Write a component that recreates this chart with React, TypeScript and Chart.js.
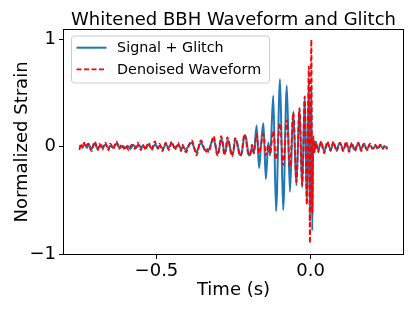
import React, { useEffect, useRef } from "react";
import { Chart, registerables } from "chart.js";

Chart.register(...registerables);

// ---- data ----
const times = [
  -0.750, -0.745, -0.740, -0.735, -0.730, -0.725, -0.720, -0.715, -0.710, -0.705,
  -0.700, -0.695, -0.690, -0.685, -0.680, -0.675, -0.670, -0.665, -0.660, -0.655,
  -0.650, -0.645, -0.640, -0.635, -0.630, -0.625, -0.620, -0.615, -0.610, -0.605,
  -0.600, -0.595, -0.590, -0.585, -0.580, -0.575, -0.570, -0.565, -0.560, -0.555,
  -0.550, -0.545, -0.540, -0.535, -0.530, -0.525, -0.520, -0.515, -0.510, -0.505,
  -0.500, -0.495, -0.490, -0.485, -0.480, -0.475, -0.470, -0.465, -0.460, -0.455,
  -0.450, -0.445, -0.440, -0.435, -0.430, -0.425, -0.420, -0.415, -0.410, -0.405,
  -0.400, -0.395, -0.390, -0.385, -0.380, -0.375, -0.370, -0.365, -0.360, -0.355,
  -0.350, -0.345, -0.340, -0.335,
  -0.330, -0.325, -0.320, -0.315, -0.310, -0.305, -0.300, -0.295, -0.290, -0.285,
  -0.280, -0.275, -0.270, -0.265, -0.260, -0.255, -0.250, -0.245, -0.240, -0.235,
  -0.230, -0.225, -0.220, -0.215, -0.210, -0.205, -0.200, -0.195,
  -0.190, -0.184, -0.175, -0.167, -0.160, -0.153, -0.145, -0.137, -0.131, -0.121,
  -0.112, -0.099, -0.089, -0.077, -0.067, -0.056, -0.046, -0.036, -0.027, -0.019,
  -0.012, -0.0055, -0.002, 0.0025, 0.0055, 0.009, 0.013, 0.017,
  0.020, 0.025, 0.030, 0.035, 0.040, 0.045, 0.050, 0.055, 0.060, 0.065,
  0.070, 0.075, 0.080, 0.085, 0.090, 0.095, 0.100, 0.105, 0.110, 0.115,
  0.120, 0.125, 0.130, 0.135, 0.140, 0.145, 0.150, 0.155, 0.160, 0.165,
  0.170, 0.175, 0.180, 0.185, 0.190, 0.195, 0.200, 0.205, 0.210, 0.215,
  0.220, 0.225, 0.230, 0.235, 0.240, 0.245, 0.250,
];

const signalGlitch = [
  -0.01, 0.01, 0.00, 0.02, 0.01, -0.01, 0.02, 0.00, -0.02, 0.01,
  0.03, 0.00, -0.02, 0.01, 0.02, -0.01, 0.01, 0.02, 0.00, -0.01,
  0.01, 0.00, -0.01, 0.01, 0.03, 0.01, -0.01, 0.00, 0.01, 0.00,
  -0.01, 0.01, 0.00, -0.02, 0.00, 0.02, 0.00, -0.01, 0.02, 0.01,
  -0.01, 0.01, 0.00, -0.01, 0.01, 0.02, 0.00, -0.02, 0.00, 0.02,
  0.01, -0.01, 0.01, 0.00, -0.02, 0.00, 0.02, 0.01, -0.01, 0.01,
  0.03, 0.01, -0.01, 0.00, 0.02, 0.00, -0.02, 0.00, -0.01, -0.03,
  -0.01, 0.01, 0.03, 0.04, 0.01, -0.03, -0.05, -0.02, 0.02, 0.04,
  0.01, -0.02, -0.04, -0.02,
  -0.03, 0.01, 0.05, 0.07, 0.03, -0.04, -0.06, 0.00, 0.07, 0.04,
  -0.05, -0.04, 0.06, 0.05, -0.02, -0.07, -0.04, 0.06, 0.06, 0.00,
  -0.07, -0.08, 0.00, 0.10, 0.09, 0.00, -0.08, -0.07,
  0.00, -0.06, 0.20, -0.20, 0.04, 0.22, -0.30, 0.04, -0.08, 0.48,
  -0.60, 0.63, -0.59, 0.57, -0.42, 0.33, -0.36, 0.36, -0.38, 0.47,
  -0.53, 0.62, -0.70, 0.55, -0.78, 0.08, -0.04, 0.05,
  0.02, -0.03, 0.01, 0.04, -0.01, -0.04, 0.00, 0.03, 0.01, -0.03,
  0.00, 0.03, 0.00, -0.03, 0.01, 0.03, 0.01, -0.02, -0.01, 0.03,
  0.01, -0.03, 0.00, 0.02, -0.01, -0.03, 0.01, 0.03, 0.00, -0.02,
  0.01, 0.02, -0.01, -0.02, 0.01, 0.01, -0.01, -0.01, 0.01, 0.00,
  -0.01, 0.01, 0.00, -0.01, 0.00, 0.00, -0.01,
];

const denoised = [
  -0.03, 0.03, -0.01, 0.04, 0.00, 0.02, 0.03, -0.02, -0.04, 0.02,
  0.05, 0.01, -0.03, 0.03, 0.00, -0.03, 0.02, 0.04, -0.01, -0.03,
  0.03, 0.01, -0.02, 0.02, 0.05, 0.02, -0.02, 0.02, 0.00, -0.02,
  0.01, -0.01, -0.03, 0.00, 0.02, 0.00, -0.02, 0.01, 0.04, -0.01,
  -0.03, 0.02, 0.00, -0.03, 0.02, 0.04, 0.00, -0.03, 0.02, 0.05,
  0.01, -0.02, 0.03, -0.01, -0.04, 0.01, 0.04, 0.00, -0.03, 0.02,
  0.05, 0.01, -0.03, 0.01, 0.04, 0.00, -0.04, 0.02, -0.02, -0.05,
  -0.03, 0.02, 0.04, 0.06, 0.02, -0.04, -0.08, -0.03, 0.04, 0.06,
  0.03, -0.02, -0.05, -0.03,
  -0.05, 0.00, 0.06, 0.10, 0.05, -0.06, -0.08, 0.02, 0.10, 0.03,
  -0.08, -0.02, 0.09, 0.04, -0.04, -0.09, -0.03, 0.08, 0.05, -0.02,
  -0.08, -0.07, 0.02, 0.12, 0.08, -0.03, -0.08, -0.05,
  0.02, -0.06, 0.12, -0.06, 0.03, 0.12, -0.08, 0.02, -0.06, 0.15,
  -0.12, 0.22, -0.17, 0.25, -0.19, 0.32, -0.33, 0.36, -0.36, 0.47,
  -0.54, 0.75, -0.90, 1.00, -0.62, 0.10, -0.05, 0.04,
  0.00, -0.05, 0.02, 0.05, -0.02, -0.06, 0.01, 0.05, 0.00, -0.04,
  0.02, 0.05, -0.01, -0.04, 0.00, 0.04, 0.01, -0.04, 0.00, 0.05,
  0.00, -0.05, 0.01, 0.04, -0.02, -0.04, 0.02, 0.04, -0.01, -0.04,
  0.02, 0.03, -0.02, -0.03, 0.02, 0.03, -0.02, -0.01, 0.02, -0.01,
  -0.02, 0.02, 0.01, -0.02, 0.01, -0.01, -0.02,
];

const seriesLabels = ["Signal + Glitch", "Denoised Waveform"];
const seriesColors = ["#1f77b4", "#ff0000"];
const xTicks = [-0.5, 0.0];
const yTicks = [-1, 0, 1];
const titleText = "Whitened BBH Waveform and Glitch";
const xLabel = "Time (s)";
const yLabel = "Normalized Strain";

const FONT = '"DejaVu Sans", "Liberation Sans", sans-serif';
const minus = (s: string) => s.replace("-", "\u2212");

const decorPlugin = {
  id: "decor",
  afterDatasetsDraw(chart: any) {
    const { ctx, chartArea } = chart;
    const { left, top, right, bottom } = chartArea;
    ctx.save();
    // spines
    ctx.strokeStyle = "#000";
    ctx.lineWidth = 1;
    ctx.strokeRect(Math.round(left) - 0.5, Math.round(top) - 0.5, Math.round(right - left) + 1, Math.round(bottom - top) + 1);

    // legend
    const bx = left + 7.5, by = top + 6, bw = 198, bh = 47, r = 3;
    ctx.beginPath();
    ctx.moveTo(bx + r, by);
    ctx.lineTo(bx + bw - r, by);
    ctx.arcTo(bx + bw, by, bx + bw, by + r, r);
    ctx.lineTo(bx + bw, by + bh - r);
    ctx.arcTo(bx + bw, by + bh, bx + bw - r, by + bh, r);
    ctx.lineTo(bx + r, by + bh);
    ctx.arcTo(bx, by + bh, bx, by + bh - r, r);
    ctx.lineTo(bx, by + r);
    ctx.arcTo(bx, by, bx + r, by, r);
    ctx.closePath();
    ctx.fillStyle = "rgba(255,255,255,0.8)";
    ctx.fill();
    ctx.strokeStyle = "#cccccc";
    ctx.lineWidth = 1;
    ctx.stroke();

    const rows = [by + 11.7, by + 33.3];
    ctx.font = `14.3px ${FONT}`;
    ctx.textBaseline = "middle";
    ctx.textAlign = "left";
    rows.forEach((ry, i) => {
      ctx.beginPath();
      ctx.strokeStyle = seriesColors[i];
      ctx.lineWidth = i === 0 ? 2 : 1.8;
      ctx.setLineDash(i === 0 ? [] : [5, 2.5]);
      ctx.moveTo(bx + 5, ry);
      ctx.lineTo(bx + 35, ry);
      ctx.stroke();
      ctx.setLineDash([]);
      ctx.fillStyle = "#000";
      ctx.fillText(seriesLabels[i], bx + 45.6, ry + 0.5);
    });
    ctx.restore();
  },
  afterDraw(chart: any) {
    const { ctx, chartArea } = chart;
    const { left, top, right, bottom } = chartArea;
    const cx = (left + right) / 2;
    const cy = (top + bottom) / 2;
    ctx.save();
    ctx.fillStyle = "#000";
    ctx.font = `18px ${FONT}`;
    ctx.textAlign = "center";
    ctx.textBaseline = "alphabetic";
    ctx.fillText(titleText, cx, 25);
    ctx.fillText(xLabel, cx, 295);
    ctx.translate(27, cy);
    ctx.rotate(-Math.PI / 2);
    ctx.fillText(yLabel, 0, 0);
    ctx.restore();
  },
};

export default function App() {
  const ref = useRef<HTMLCanvasElement | null>(null);

  useEffect(() => {
    const canvas = ref.current;
    if (!canvas) return;
    const chart = new Chart(canvas, {
      type: "line",
      data: {
        datasets: [
          {
            label: seriesLabels[1],
            data: times.map((t, i) => ({ x: t, y: denoised[i] })),
            borderColor: seriesColors[1],
            borderWidth: 1.8,
            borderDash: [5, 2.5],
            pointRadius: 0,
            cubicInterpolationMode: "monotone",
            fill: false,
            order: 0,
          },
          {
            label: seriesLabels[0],
            data: times.map((t, i) => ({ x: t, y: signalGlitch[i] })),
            borderColor: seriesColors[0],
            borderWidth: 2,
            pointRadius: 0,
            cubicInterpolationMode: "monotone",
            fill: false,
            order: 1,
          },
        ],
      },
      options: {
        animation: false,
        responsive: false,
        devicePixelRatio: 1,
        events: [],
        layout: { padding: { left: 0, right: 12, top: 30, bottom: 0 } },
        plugins: {
          legend: { display: false },
          title: { display: false },
          tooltip: { enabled: false },
        },
        scales: {
          x: {
            type: "linear",
            min: -0.8,
            max: 0.3,
            afterFit: (s: any) => { s.height = 57; },
            afterBuildTicks: (s: any) => { s.ticks = xTicks.map((v) => ({ value: v })); },
            ticks: {
              callback: (v: any) => minus(Number(v).toFixed(1)),
              font: { family: FONT, size: 18 },
              color: "#000",
              padding: 2,
              maxRotation: 0,
              autoSkip: false,
            },
            grid: { display: true, drawOnChartArea: false, drawTicks: true, tickLength: 5, color: "#000", lineWidth: 1 },
            border: { display: false },
          },
          y: {
            type: "linear",
            min: -1.0,
            max: 1.09,
            afterFit: (s: any) => { s.width = 64; },
            afterBuildTicks: (s: any) => { s.ticks = yTicks.map((v) => ({ value: v })); },
            ticks: {
              callback: (v: any) => minus(String(Number(v))),
              font: { family: FONT, size: 18 },
              color: "#000",
              padding: 3,
              autoSkip: false,
            },
            grid: { display: true, drawOnChartArea: false, drawTicks: true, tickLength: 5, color: "#000", lineWidth: 1 },
            border: { display: false },
          },
        },
      },
      plugins: [decorPlugin],
    } as any);
    return () => chart.destroy();
  }, []);

  return (
    <div style={{ position: "fixed", left: 0, top: 0, width: 415, height: 311, background: "#fff" }}>
      <canvas ref={ref} width={415} height={311} style={{ display: "block", width: 415, height: 311 }} />
    </div>
  );
}
